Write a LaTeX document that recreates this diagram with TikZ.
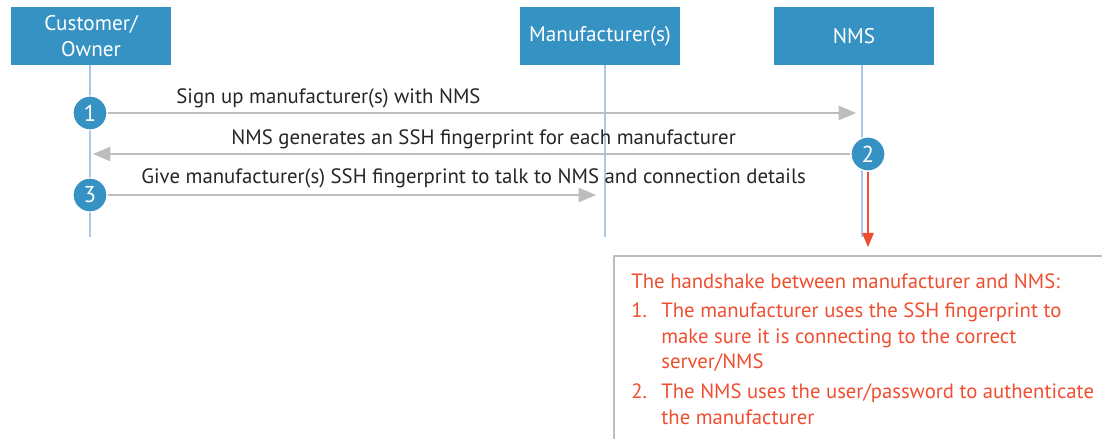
\documentclass[tikz,border=0pt]{standalone}
\usepackage{fontspec}
\setmainfont{PT Sans}
\usetikzlibrary{arrows}

\definecolor{actorblue}{HTML}{3592C3}
\definecolor{lifeblue}{HTML}{A9C9E6}
\definecolor{msggray}{HTML}{BDBDBD}
\definecolor{notered}{HTML}{F04E30}

\begin{document}
\begin{tikzpicture}[x=0.5pt,y=-0.5pt,
	actor/.style={fill=actorblue,text=white,minimum width=80pt,minimum height=29pt,align=center,font=\fontsize{10.6}{13}\selectfont},
	lifeline/.style={draw=lifeblue,line width=0.7pt},
	stepnum/.style={circle,fill=actorblue,draw=white,line width=0.6pt,text=white,minimum size=17pt,inner sep=0pt,font=\fontsize{11.5}{12}\selectfont},
	msg/.style={draw=msggray,line width=1pt,-triangle 45},
	msglabel/.style={anchor=base west,inner sep=0pt,text=black!85,font=\fontsize{10.4}{12}\selectfont}]

	\useasboundingbox (0,0) rectangle (1102,439);

	% actors
	\node[actor] (cust) at (91,36) {Customer/\\Owner};
	\node[actor] (manu) at (600,36) {Manufacturer(s)};
	\node[actor] (nms)  at (854,36) {NMS};

	% lifelines
	\coordinate (custtop) at (90,65);  \coordinate (custend) at (90,237);
	\coordinate (manutop) at (605,65); \coordinate (manuend) at (605,237);
	\coordinate (nmstop)  at (862,65); \coordinate (nmsend)  at (862,237);
	\draw[lifeline] (custtop) -- (custend);
	\draw[lifeline] (manutop) -- (manuend);
	\draw[lifeline] (nmstop) -- (nmsend);

	% steps
	\node[stepnum] (s1) at (90,113) {1};
	\node[stepnum] (s2) at (868,154) {2};
	\node[stepnum] (s3) at (90,195) {3};

	\coordinate (at1) at (856,113);
	\coordinate (at2) at (93,154);
	\coordinate (at3) at (596,195);
	\coordinate (notetip) at (868,247);

	\draw[msg] (s1) -- (at1);
	\draw[msg] (s2) -- (at2);
	\draw[msg] (s3) -- (at3);

	\node[msglabel] (l1) at (176,103) {Sign up manufacturer(s) with NMS};
	\node[msglabel] (l2) at (231,144) {NMS generates an SSH fingerprint for each manufacturer};
	\node[msglabel] (l3) at (141,183) {Give manufacturer(s) SSH fingerprint to talk to NMS and connection details};

	% handshake note
	\draw[notered,line width=0.6pt,-triangle 45] (s2) -- (notetip);
	\draw[msggray,line width=1pt] (614,439) -- (614,256) -- (1102,256);
	\node[anchor=north west,inner sep=0pt,align=left,text=notered,font=\fontsize{10.35}{12.8}\selectfont] (note) at (631,273)
		{The handshake between manufacturer and NMS:\\[2pt]
		 \makebox[15pt][l]{1.}The manufacturer uses the SSH fingerprint to\\
		 \hspace*{15pt}make sure it is connecting to the correct\\
		 \hspace*{15pt}server/NMS\\[2pt]
		 \makebox[15pt][l]{2.}The NMS uses the user/password to authenticate\\
		 \hspace*{15pt}the manufacturer};

\end{tikzpicture}
\end{document}
